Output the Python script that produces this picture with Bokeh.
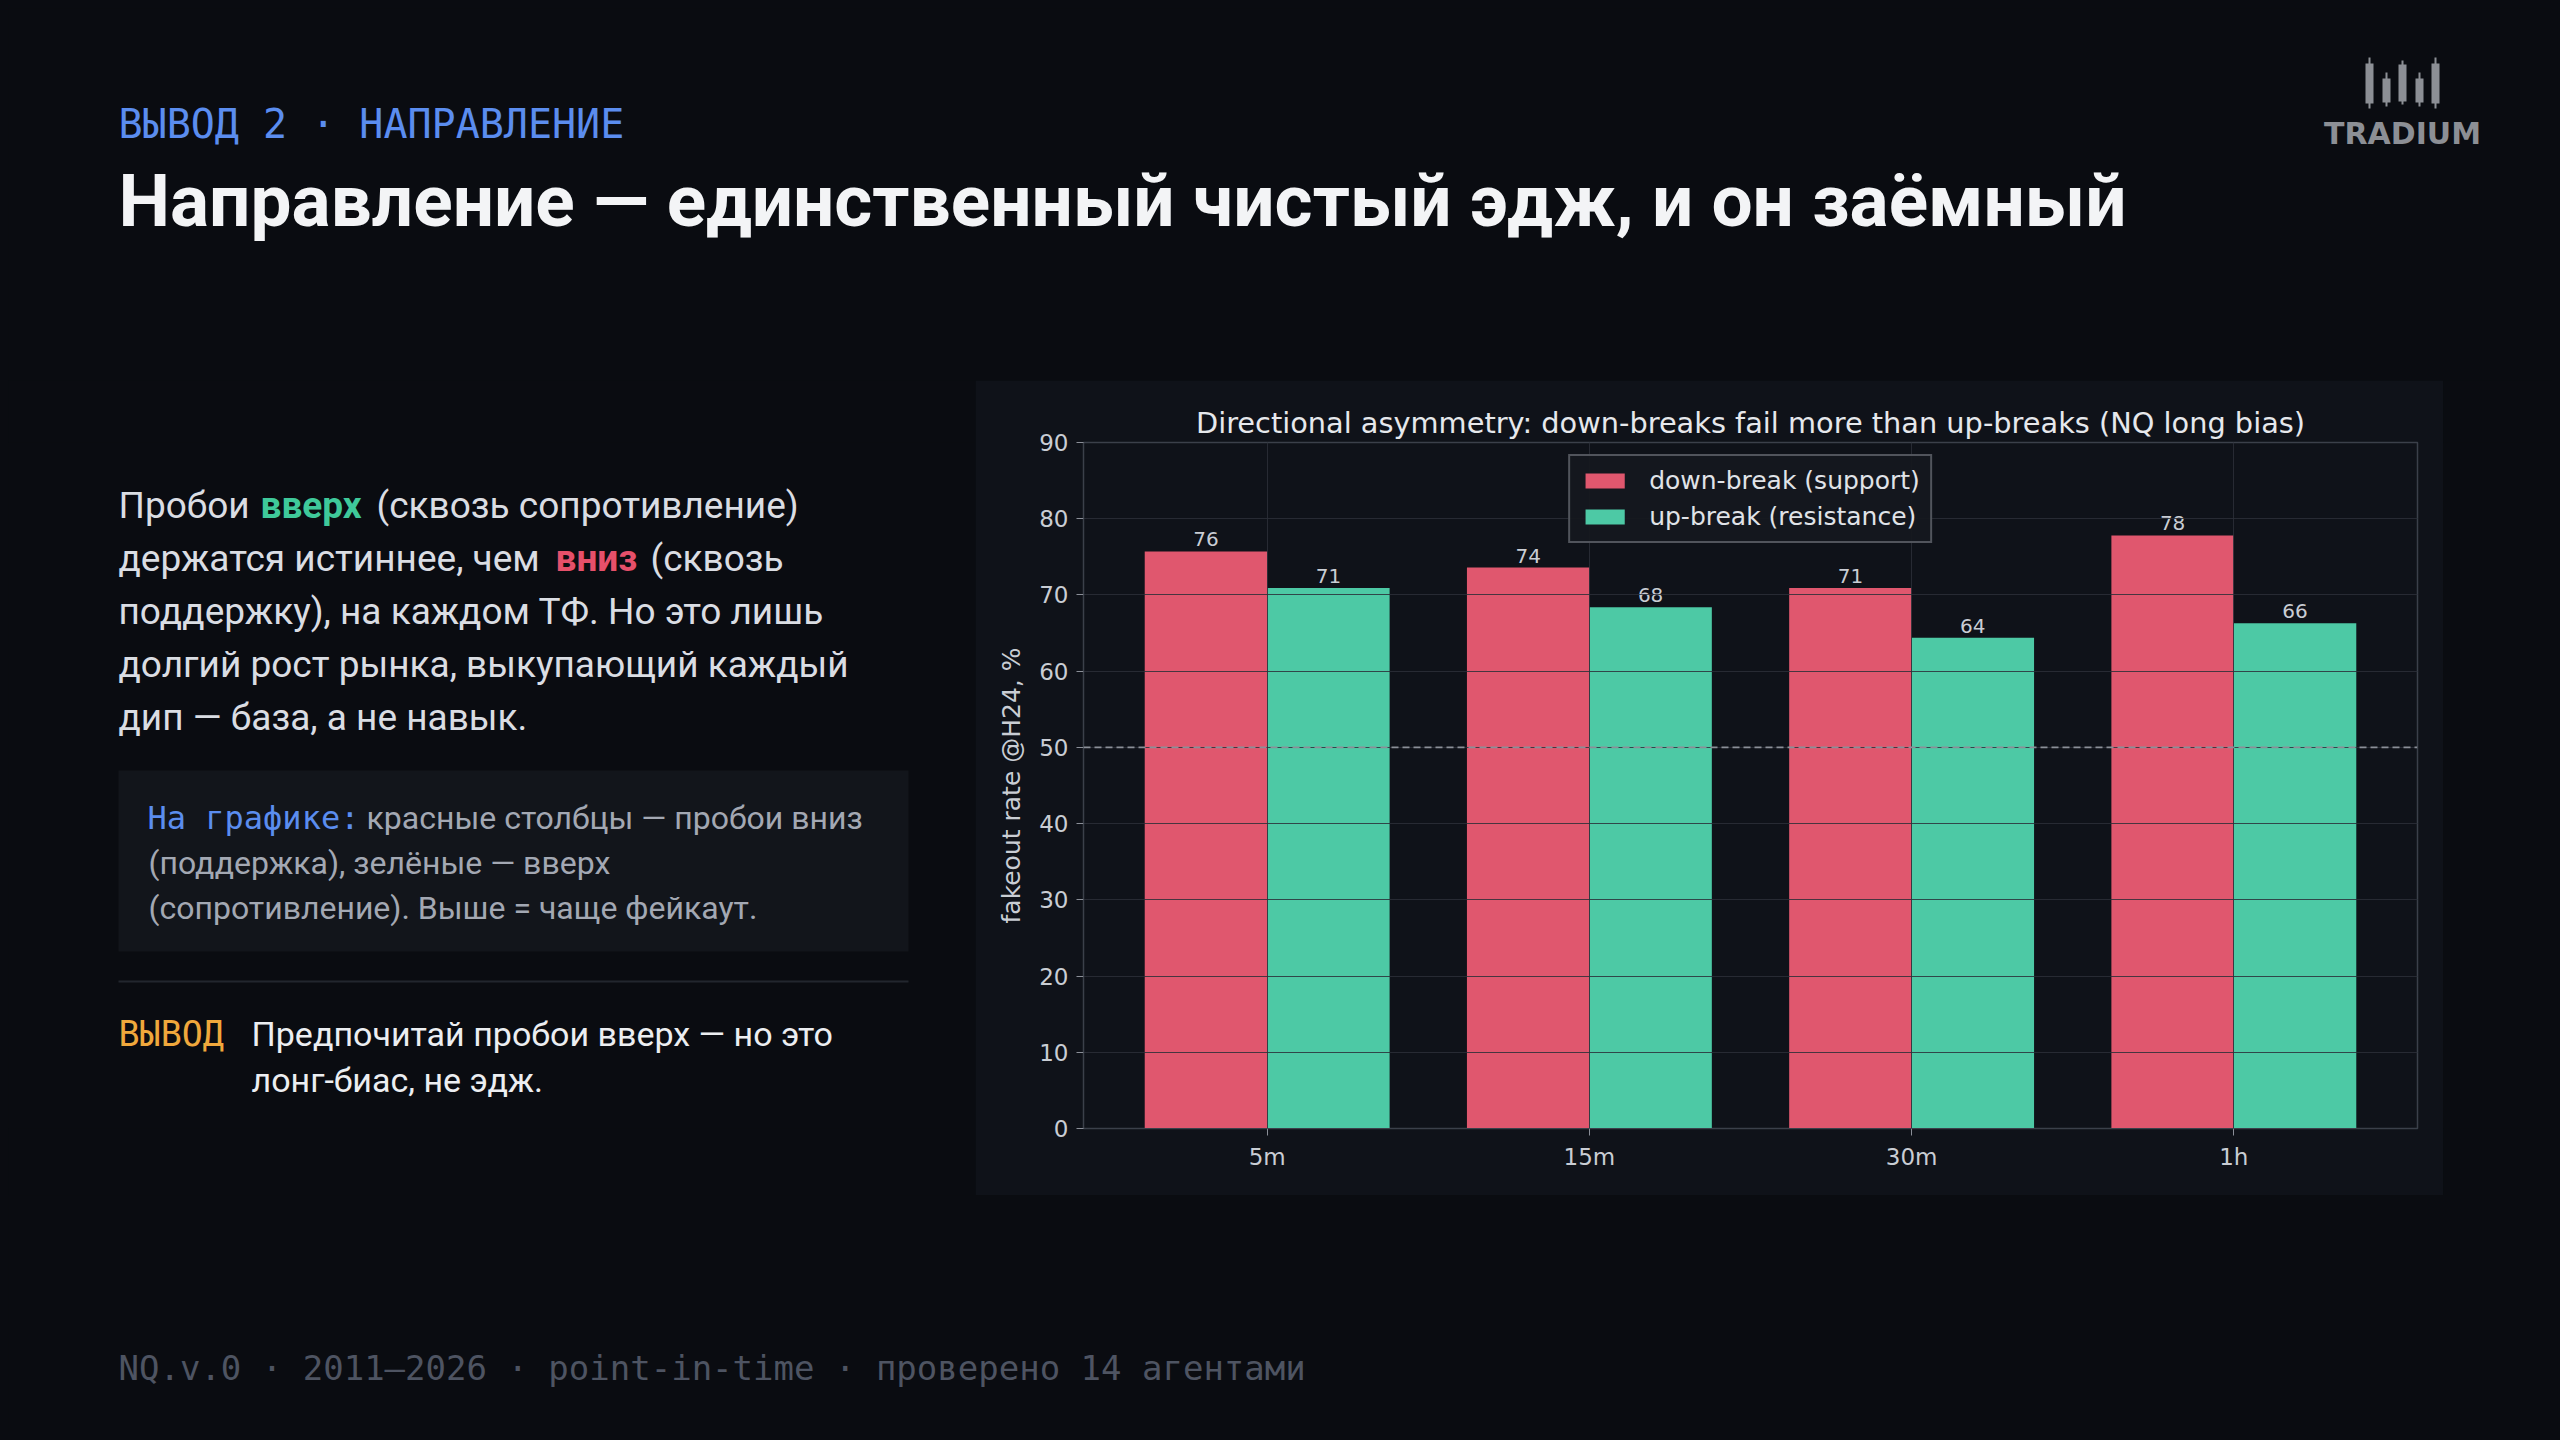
import numpy as np
from bokeh.plotting import figure
from bokeh.models import Range1d, FixedTicker, Span, ColumnDataSource
from bokeh.layouts import column, row
from bokeh.transform import dodge
from bokeh.core.properties import value
from bokeh.embed import file_html
from bokeh.resources import INLINE

# ---------------- data ----------------
timeframes = ["5m", "15m", "30m", "1h"]
down_break = [75.7, 73.6, 70.9, 77.8]
up_break = [70.9, 68.4, 64.4, 66.3]
series_names = ["down-break (support)", "up-break (resistance)"]
chart_title = "Directional asymmetry: down-breaks fail more than up-breaks (NQ long bias)"
y_label = "fakeout rate @H24, %"
y_ticks = list(range(0, 91, 10))
baseline_level = 50

kicker = "ВЫВОД 2 · НАПРАВЛЕНИЕ"
headline = "Направление — единственный чистый эдж, и он заёмный"
para_lines = [
    [("Пробои", "n"), ("вверх", "g"), ("(сквозь сопротивление)", "n")],
    [("держатся истиннее, чем", "n"), ("вниз", "r"), ("(сквозь", "n")],
    [("поддержку), на каждом ТФ. Но это лишь", "n")],
    [("долгий рост рынка, выкупающий каждый", "n")],
    [("дип — база, а не навык.", "n")],
]
note_label = "На графике:"
note_lines = ["красные столбцы — пробои вниз", "(поддержка), зелёные — вверх", "(сопротивление). Выше = чаще фейкаут."]
concl_label = "ВЫВОД"
concl_lines = ["Предпочитай пробои вверх — но это", "лонг-биас, не эдж."]
footer = "NQ.v.0 · 2011–2026 · point-in-time · проверено 14 агентами"
brand = "TRADIUM"

# ---------------- style ----------------
BG = "#0a0c11"
PANEL = "#0f1219"
RED = "#e0576e"
GREEN = "#4dc9a5"
TXT = "#dadde3"
TICK = "#c9cdd4"
AXIS = "#3b404a"
GRID = "#2b2f38"
SANS = "Roboto"
MONO = "DejaVu Sans Mono"
MPL = "DejaVu Sans"

# chart panel geometry (page pixels)
PANEL_TOP, PANEL_BOT = 380, 1195
B_TOP, B_BOT = 62, 67


def canvas(w, h, x0, y0, bt=0, bb=0):
    f = figure(width=w, height=h, x_range=Range1d(x0, x0 + w),
               y_range=Range1d(y0 + h - bb, y0 + bt),
               output_backend="svg", toolbar_location=None, min_border=0,
               min_border_top=bt, min_border_bottom=bb,
               x_axis_type=None, y_axis_type=None,
               background_fill_color=BG, border_fill_color=BG, outline_line_color=None)
    return f


def put(f, x, y, s, size, color, font=SANS, bold=False, align="left"):
    f.text(x=[x], y=[y], text=[s], text_font=value(font), text_font_size=value(f"{size}px"),
           text_color=color, text_baseline="middle", text_align=align,
           text_font_style="bold" if bold else "normal")


# ---------------- header ----------------
top = canvas(2544, 372, 8, 8)
put(top, 118, 123, kicker, 40, "#5b8def", font=MONO)
put(top, 118, 200, headline, 73, "#f3f4f6", bold=True)
# logo
cx = [2369, 2386, 2402, 2419, 2435]
wick_top = [57, 72, 60, 72, 57]
wick_bot = [108, 106, 104, 106, 108]
body_top = [63, 78, 64, 78, 63]
body_bot = [103, 102, 101, 102, 103]
LOGO = "#8c8f95"
top.segment(x0=cx, y0=wick_top, x1=cx, y1=wick_bot, line_color=LOGO, line_width=2)
top.quad(left=[c - 4 for c in cx], right=[c + 4 for c in cx], top=body_top, bottom=body_bot,
         fill_color=LOGO, line_color=None)
put(top, 2402, 133, brand, 30, LOGO, font=MPL, bold=True, align="center")

# ---------------- left text ----------------
left = canvas(967, PANEL_BOT - PANEL_TOP, 8, PANEL_TOP, B_TOP, B_BOT)
seg_x = [[118, 260, 376], [118, 555, 650], [118], [118], [118]]
para_y = [505, 558, 611, 664, 717]
colors = {"n": TXT, "g": "#3fc99a", "r": "#e6506a"}
for line, xs, y in zip(para_lines, seg_x, para_y):
    for (s, kind), x in zip(line, xs):
        put(left, x, y, s, 37, colors[kind], bold=(kind != "n"))

left.quad(left=[118], right=[908], top=[770], bottom=[951], fill_color="#12151b", line_color=None)
put(left, 147, 817, note_label, 32, "#5b8def", font=MONO)
note_x = [366, 148, 148]
note_y = [817, 862, 907]
for s, x, y in zip(note_lines, note_x, note_y):
    put(left, x, y, s, 32, "#a3a8b3")

left.segment(x0=[118], y0=[981], x1=[908], y1=[981], line_color="#22262e", line_width=2)
put(left, 118, 1033, concl_label, 35, "#f0a83c", font=MONO)
for s, y in zip(concl_lines, [1033, 1079]):
    put(left, 251, y, s, 34, "#eceef1")

# ---------------- chart ----------------
xi = np.arange(len(timeframes))
src = ColumnDataSource(dict(
    x=xi, down=down_break, up=up_break,
    down_lbl=[f"{v:.0f}" for v in down_break],
    up_lbl=[f"{v:.0f}" for v in up_break],
))
c = figure(width=1468, height=PANEL_BOT - PANEL_TOP, x_range=Range1d(-0.57, len(timeframes) - 0.43),
           y_range=Range1d(y_ticks[0], y_ticks[-1]),
           output_backend="svg", toolbar_location=None,
           min_border_left=108, min_border_right=26, min_border_top=B_TOP, min_border_bottom=B_BOT,
           background_fill_color=PANEL, border_fill_color=PANEL,
           outline_line_color=AXIS, outline_line_width=1.5)

bw = 0.38
c.vbar(x=dodge("x", -bw / 2, range=c.x_range), top="down", bottom=0, width=bw, source=src,
       fill_color=RED, line_color=None, legend_label=series_names[0])
c.vbar(x=dodge("x", bw / 2, range=c.x_range), top="up", bottom=0, width=bw, source=src,
       fill_color=GREEN, line_color=None, legend_label=series_names[1])
for col, lbl, off in (("down", "down_lbl", -bw / 2), ("up", "up_lbl", bw / 2)):
    c.text(x=dodge("x", off, range=c.x_range), y=col, text=lbl, source=src,
           text_align="center", text_baseline="bottom", y_offset=-5,
           text_font=value(MPL), text_font_size=value("20px"), text_color=TICK)

c.add_layout(Span(location=baseline_level, dimension="width", line_color="#8b8f98",
                  line_dash="7 4", line_width=1.6))

c.xaxis.ticker = FixedTicker(ticks=[float(v) for v in xi])
c.xaxis.major_label_overrides = {int(i): t for i, t in enumerate(timeframes)}
c.yaxis.ticker = FixedTicker(ticks=y_ticks)
c.axis.axis_line_color = AXIS
c.axis.major_tick_line_color = "#8b8f98"
c.axis.major_tick_out = 7
c.axis.major_tick_in = 0
c.axis.minor_tick_line_color = None
c.axis.major_label_text_font = MPL
c.axis.major_label_text_font_size = "23px"
c.axis.major_label_text_color = TICK
c.axis.major_label_standoff = 8
c.yaxis.axis_label = y_label
c.yaxis.axis_label_text_font = MPL
c.yaxis.axis_label_text_font_size = "25px"
c.yaxis.axis_label_text_font_style = "normal"
c.yaxis.axis_label_text_color = TICK
c.yaxis.axis_label_standoff = 10

c.grid.grid_line_color = GRID
c.grid.grid_line_alpha = 0.85
c.grid.level = "guide"

c.title.text = chart_title
c.title.align = "center"
c.title.text_font = MPL
c.title.text_font_size = "28.8px"
c.title.text_font_style = "normal"
c.title.text_color = "#e6e8ec"
c.title.standoff = 6

leg = c.legend[0]
leg.location = "top_center"
leg.margin = 12
leg.padding = 10
leg.spacing = 7
leg.glyph_width = 49
leg.glyph_height = 19
leg.label_standoff = 20
leg.label_text_font = MPL
leg.label_text_font_size = "25px"
leg.label_text_color = "#e0e3e8"
leg.background_fill_color = "#15181f"
leg.background_fill_alpha = 0.95
leg.border_line_color = "#8d9199"
leg.border_line_width = 2

right = canvas(109, PANEL_BOT - PANEL_TOP, 2443, PANEL_TOP, B_TOP, B_BOT)

# ---------------- footer ----------------
bottom = canvas(2544, 237, 8, PANEL_BOT)
put(bottom, 118, 1367, footer, 34, "#4e5462", font=MONO)

layout = column(top, row(left, c, right, spacing=0), bottom, spacing=0)

TEMPLATE = """
{% block inner_head %}
{{ super() }}
<style>html { background: #0a0c11 !important; margin: 0 !important; padding: 0 !important; }
body { background: #0a0c11 !important; margin: 8px !important; padding: 0 !important; }</style>
{% endblock %}
"""
open("out.html", "w").write(file_html(layout, INLINE, title="chart", template=TEMPLATE))
